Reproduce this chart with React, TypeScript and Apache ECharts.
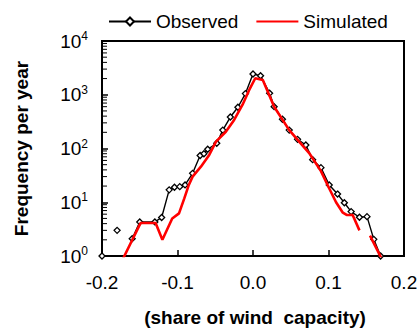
import React, { useEffect, useRef } from "react";
import * as echarts from "echarts";

// x positions (share of wind capacity) and frequencies per year
const obsX = [-0.2, -0.19, -0.18, -0.17, -0.16, -0.15, -0.13, -0.121, -0.111, -0.104, -0.097, -0.09, -0.08, -0.07, -0.065, -0.06, -0.048, -0.04, -0.03, -0.02, -0.01, 0.0, 0.01, 0.022, 0.028, 0.039, 0.048, 0.059, 0.07, 0.079, 0.09, 0.101, 0.112, 0.121, 0.13, 0.141, 0.151, 0.16, 0.169];
const obsY = [1, null, 3.0, null, 2.1, 4.3, 4.3, 5.2, 17, 19, 19.5, 21, 34.5, 74, 80, 97, 125, 220, 385, 585, 1050, 2430, 2260, 1070, 600, 350, 220, 148, 116, 62, 44, 21, 14.2, 9.8, 6.7, 5.25, 5.4, 2.04, 1];

const simX = [-0.172, -0.149, -0.129, -0.12, -0.107, -0.098, -0.091, -0.085, -0.08, -0.069, -0.058, -0.049, -0.036, -0.025, -0.014, -0.005, 0.003, 0.013, 0.028, 0.048, 0.06, 0.075, 0.09, 0.101, 0.11, 0.119, 0.124, 0.132, 0.141, 0.148, 0.155, 0.172];
const simY = [0.9, 4.1, 4.1, 2.0, 5.0, 6.2, 11.8, 21, 30, 46, 76, 134, 205, 340, 645, 1230, 2030, 1880, 600, 220, 140, 80, 38, 18, 10, 6.4, 5.8, 5.8, 3.0, null, 2.4, 0.8];

const xTicks = [-0.2, -0.1, 0.0, 0.1, 0.2];
const yMajor = [1, 10, 100, 1000, 10000];
const yMinorTicks: number[] = [];
for (let d = 0; d < yMajor.length - 1; d++) {
  for (let m = 2; m <= 9; m++) yMinorTicks.push(m * yMajor[d]);
}

const FONT = "'Liberation Sans', Arial, sans-serif";

export default function App() {
  const ref = useRef<HTMLDivElement>(null);
  useEffect(() => {
    if (!ref.current) return;
    const chart = echarts.init(ref.current, null, { renderer: "svg" });
    const obsData = obsX.map((x, i) => [x, obsY[i] === null ? "-" : obsY[i]]);
    const simData = simX.map((x, i) => [x, simY[i] === null ? "-" : simY[i]]);
    chart.setOption({
      animation: false,
      backgroundColor: "#fff",
      textStyle: { fontFamily: FONT },
      legend: {
        left: 103,
        top: 7,
        itemWidth: 42,
        itemHeight: 10,
        itemGap: 17,
        data: ["Observed", "Simulated"],
        textStyle: { fontSize: 19, color: "#000", fontFamily: FONT },
      },
      grid: {
        left: 102,
        right: 14,
        top: 41,
        bottom: 72,
        show: true,
        borderColor: "#000",
        borderWidth: 2,
        containLabel: false,
        outerBoundsMode: "none",
      },
      xAxis: {
        type: "value",
        min: xTicks[0],
        max: xTicks[xTicks.length - 1],
        interval: 0.1,
        name: "(share of wind  capacity)",
        nameLocation: "middle",
        nameGap: 52,
        nameTextStyle: { fontSize: 19, fontWeight: "bold", color: "#000", fontFamily: FONT, padding: [0, 0, 0, 4] },
        axisLine: { show: true, onZero: false, lineStyle: { color: "#000", width: 2 } },
        axisTick: { show: true, inside: true, length: 6, lineStyle: { color: "#000", width: 1.5 } },
        axisLabel: {
          fontSize: 19,
          color: "#000",
          margin: 17,
          fontFamily: FONT,
          formatter: (v: number) => (Math.abs(v) < 1e-9 ? "0.0" : v.toFixed(1)),
        },
        splitLine: { show: false },
      },
      yAxis: {
        type: "log",
        logBase: 10,
        min: 1,
        max: 10000,
        name: "Frequency per year",
        nameLocation: "middle",
        nameGap: 71,
        nameTextStyle: { fontSize: 19, fontWeight: "bold", color: "#000", fontFamily: FONT },
        axisLine: { show: true, onZero: false, lineStyle: { color: "#000", width: 2 } },
        axisTick: { show: true, inside: true, length: 6, lineStyle: { color: "#000", width: 1.5 } },
        axisLabel: {
          color: "#000",
          margin: 14,
          formatter: (v: number) => `{b|10}{s|${Math.round(Math.log10(v))}}`,
          rich: {
            b: { fontSize: 19, fontFamily: FONT, color: "#000", lineHeight: 22 },
            s: { fontSize: 12, fontFamily: FONT, color: "#000", lineHeight: 12, verticalAlign: "top", padding: [0, 0, 10, 0] },
          },
        },
        splitLine: { show: false },
      },
      series: [
        {
          name: "minor",
          type: "custom",
          silent: true,
          clip: false,
          data: yMinorTicks.map((v) => [xTicks[0], v]),
          renderItem: (params: any, api: any) => {
            const p = api.coord([api.value(0), api.value(1)]);
            return {
              type: "line",
              shape: { x1: p[0], y1: p[1], x2: p[0] + 5, y2: p[1] },
              style: { stroke: "#000", lineWidth: 1 },
            };
          },
          z: 5,
        },
        {
          name: "Observed",
          type: "line",
          data: obsData,
          showSymbol: true,
          symbol: "diamond",
          symbolSize: 6,
          connectNulls: false,
          lineStyle: { color: "#000", width: 1.4 },
          itemStyle: { color: "#fff", borderColor: "#000", borderWidth: 1.3 },
          z: 2,
        },
        {
          name: "Simulated",
          type: "line",
          data: simData,
          showSymbol: false,
          symbol: "circle",
          symbolSize: 0,
          connectNulls: false,
          clip: true,
          lineStyle: { color: "#ff0000", width: 2.6 },
          itemStyle: { color: "#ff0000", opacity: 0 },
          z: 3,
        },
      ],
    });
    return () => chart.dispose();
  }, []);
  return <div ref={ref} style={{ position: "fixed", left: 0, top: 0, width: 418, height: 328 }} />;
}
